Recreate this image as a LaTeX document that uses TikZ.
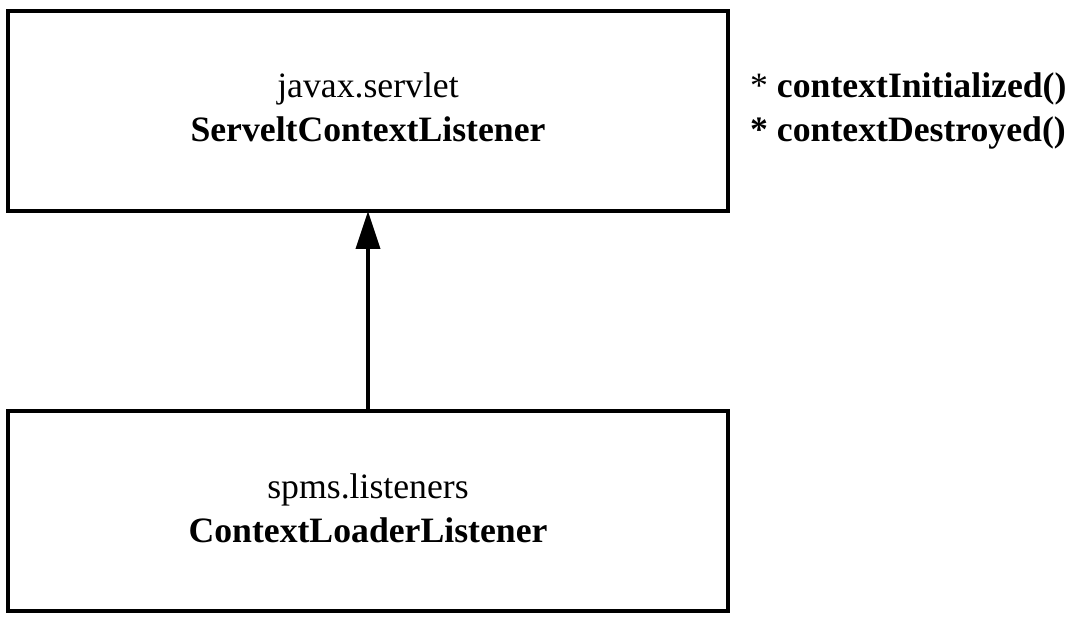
\documentclass[tikz,border=0pt]{standalone}
\usepackage{fontspec}
\setmainfont{Liberation Serif}
\usetikzlibrary{arrows.meta}
\begin{document}
\begin{tikzpicture}[x=1pt,y=-1pt,
  classbox/.style={draw=black,line width=4pt,minimum width=720pt,minimum height=200pt,inner sep=0pt,outer sep=0pt},
  txt/.style={font=\fontsize{35.7}{44}\selectfont,inner sep=0pt,anchor=base},
  gen/.style={line width=4pt,-{Triangle[length=38pt,width=24pt]}}]
\useasboundingbox (0,0) rectangle (1076,620);
\node[classbox] (top) at (368,111) {};
\node[classbox] (bot) at (368,511) {};
\node[txt] (t1) at (368,98) {javax.servlet};
\node[txt] (t2) at (368,142) {\bfseries ServeltContextListener};
\node[txt] (b1) at (368,498) {spms.listeners};
\node[txt] (b2) at (368,542) {\bfseries ContextLoaderListener};
\node[txt,anchor=base west] (m1) at (750,98) {* \bfseries contextInitialized()};
\node[txt,anchor=base west] (m2) at (750,142) {\bfseries * contextDestroyed()};
\draw[gen] (bot.north) -- (top.south);
\end{tikzpicture}
\end{document}
